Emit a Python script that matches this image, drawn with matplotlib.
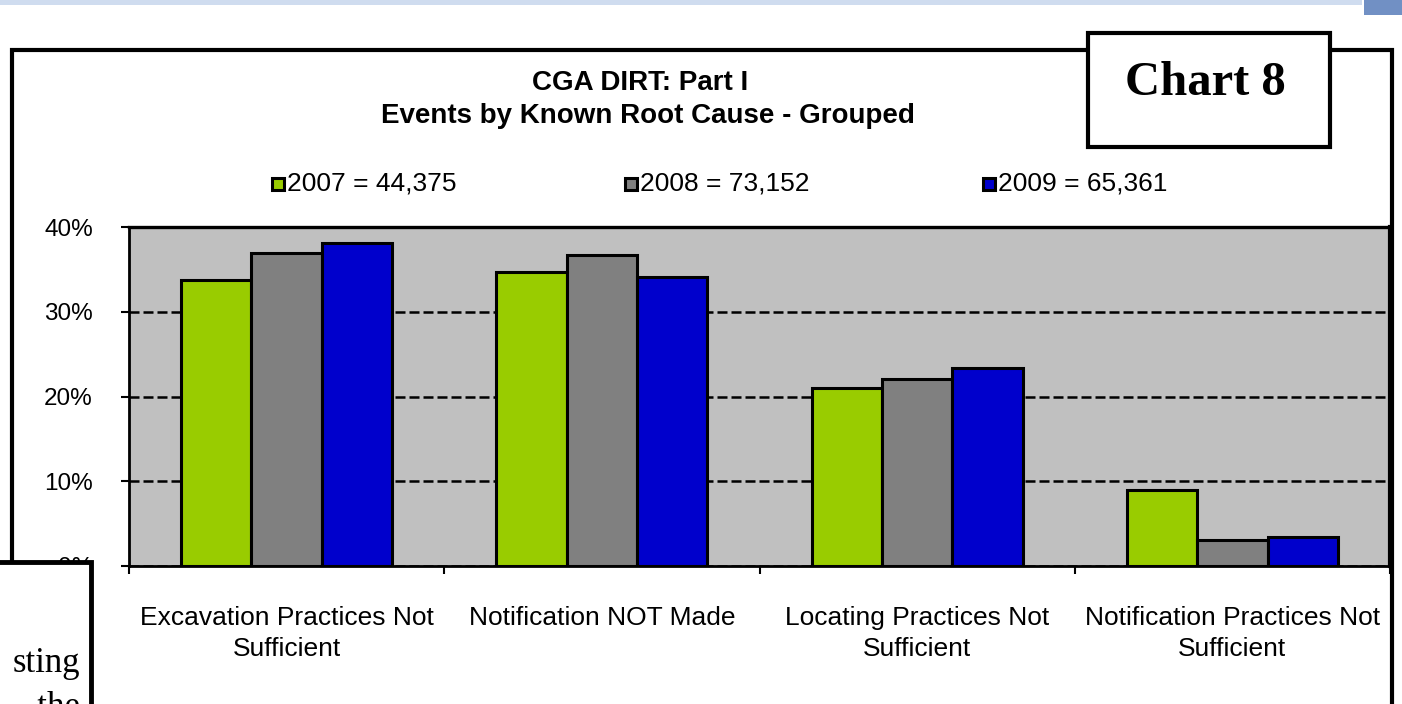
import matplotlib
matplotlib.use("Agg")
import matplotlib.pyplot as plt
from matplotlib.patches import Rectangle
import numpy as np

categories = ["Excavation Practices Not\nSufficient", "Notification NOT Made",
              "Locating Practices Not\nSufficient", "Notification Practices Not\nSufficient"]
series_names = ["2007 = 44,375", "2008 = 73,152", "2009 = 65,361"]
v2007 = [33.8, 34.7, 21.0, 9.0]
v2008 = [36.9, 36.7, 22.1, 3.1]
v2009 = [38.1, 34.1, 23.4, 3.4]
colors = ["#99CC00", "#808080", "#0000CC"]
yticks = [0, 10, 20, 30, 40]

W, H = 1402, 704
fig = plt.figure(figsize=(W / 100, H / 100), dpi=100)
plt.rcParams['font.family'] = ['Liberation Sans', 'DejaVu Sans']

def fx(px):
    return px / W

def fy(py):
    return 1 - py / H

# top strip
fig.patches.append(Rectangle((0, fy(5)), fx(1362), 5 / H, transform=fig.transFigure,
                             facecolor="#CFDCEF", edgecolor="none", zorder=0))
fig.patches.append(Rectangle((fx(1364), fy(15)), fx(40), 15 / H, transform=fig.transFigure,
                             facecolor="#7190C4", edgecolor="none", zorder=0))

# outer chart frame
fig.patches.append(Rectangle((fx(12), fy(720)), fx(1380), 670 / H, transform=fig.transFigure,
                             facecolor="white", edgecolor="black", linewidth=3, zorder=1))

ax = fig.add_axes([fx(129), fy(566), fx(1390 - 129), (566 - 227) / H])
ax.set_zorder(2)
ax.set_facecolor("#C0C0C0")

x = np.arange(len(categories)) + 0.5
bw = 0.223
for i, (vals, c) in enumerate(zip([v2007, v2008, v2009], colors)):
    ax.bar(x + (i - 1) * bw, vals, width=bw, color=c, edgecolor="black",
           linewidth=2.2, zorder=3)

ax.set_xlim(0, len(categories))
ax.set_ylim(0, 40)
ax.set_yticks(yticks)
ax.set_yticklabels([f"{t}%" for t in yticks], fontsize=17.5)
ax.yaxis.grid(True, color="black", linestyle=(0, (4, 1.6)), linewidth=1.8, zorder=1)
ax.set_axisbelow(True)
ax.tick_params(axis="y", direction="out", length=6, width=1.5, pad=20)

ax.set_xticks(np.arange(len(categories) + 1))
ax.set_xticklabels([])
ax.set_xticks(x, minor=True)
ax.set_xticklabels(categories, minor=True, fontsize=19, linespacing=1.33)
ax.tick_params(axis="x", which="major", direction="out", length=6, width=1.5)
ax.tick_params(axis="x", which="minor", length=0, pad=29)

for s in ["left", "bottom"]:
    ax.spines[s].set_linewidth(2)
ax.spines["top"].set_linewidth(2.4)
ax.spines["right"].set_linewidth(3)

# title
fig.text(fx(640), fy(83), "CGA DIRT: Part I", ha="center", va="center",
         fontsize=20, fontweight="bold")
fig.text(fx(648), fy(116), "Events by Known Root Cause - Grouped", ha="center", va="center",
         fontsize=20, fontweight="bold")

# legend
leg_x = [272, 625, 983]
for lx, name, c in zip(leg_x, series_names, colors):
    fig.patches.append(Rectangle((fx(lx), fy(190)), fx(12), 12 / H, transform=fig.transFigure,
                                 facecolor=c, edgecolor="black", linewidth=2.2, zorder=5))
    fig.text(fx(lx + 15), fy(184), name, ha="left", va="center", fontsize=19)

# Chart 8 box
fig.patches.append(Rectangle((fx(1088), fy(147)), fx(242), 114 / H, transform=fig.transFigure,
                             facecolor="white", edgecolor="black", linewidth=3, zorder=6))
fig.text(fx(1205), fy(83), "Chart 8", ha="center", va="center", fontsize=35,
         fontweight="bold", family=["Liberation Serif", "DejaVu Serif"], zorder=7)

# overlapping text box at lower left
fig.patches.append(Rectangle((fx(-20), fy(740)), fx(111), 178 / H, transform=fig.transFigure,
                             facecolor="white", edgecolor="black", linewidth=3.5, zorder=8))
fig.text(fx(80), fy(672), "sting", ha="right", va="baseline", fontsize=25,
         family=["Liberation Serif", "DejaVu Serif"], zorder=9)
fig.text(fx(80), fy(716), ",  the", ha="right", va="baseline", fontsize=25,
         family=["Liberation Serif", "DejaVu Serif"], zorder=9)

fig.savefig("out.png", dpi=100)
